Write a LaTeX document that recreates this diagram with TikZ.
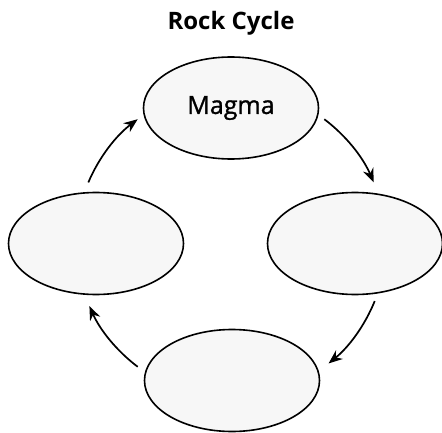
\documentclass[tikz,border=0pt]{standalone}
\usepackage{fontspec}
\setmainfont{Open Sans}
\usetikzlibrary{arrows.meta,calc,shapes.geometric}
\begin{document}
\begin{tikzpicture}[x=1pt,y=1pt,
  stage/.style={ellipse, draw=black, line width=1.6pt, fill=black!3,
    minimum width=175pt, minimum height=102pt, inner sep=0pt,
    font=\fontsize{25}{30}\selectfont\addfontfeature{FakeBold=1.2}},
  flow/.style={line width=1.7pt, -{Stealth[length=14pt,width=11pt]}},
  heading/.style={font=\bfseries\fontsize{24}{28}\selectfont}
]
\useasboundingbox (0,0) rectangle (442,432);

% title
\node[heading] (title) at (231,409) {Rock Cycle};

% the four stages
\node[stage] (magma)  at (231,324)   {Magma};
\node[stage] (right)  at (355,188.5) {};
\node[stage] (bottom) at (232,51.5)  {};
\node[stage] (left)   at (96,188.5)  {};

% arrows run clockwise along one circle round the middle
\coordinate (mid) at (231,189);
\coordinate (s1) at ($(mid)+(53:155)$);
\coordinate (s2) at ($(mid)+(-22:155)$);
\coordinate (s3) at ($(mid)+(-127:155)$);
\coordinate (s4) at ($(mid)+(157:155)$);

\draw[flow] (s1) arc[start angle=53,   end angle=23,   radius=155];
\draw[flow] (s2) arc[start angle=-22,  end angle=-51,  radius=155];
\draw[flow] (s3) arc[start angle=-127, end angle=-156, radius=155];
\draw[flow] (s4) arc[start angle=157,  end angle=127,  radius=155];
\end{tikzpicture}
\end{document}
